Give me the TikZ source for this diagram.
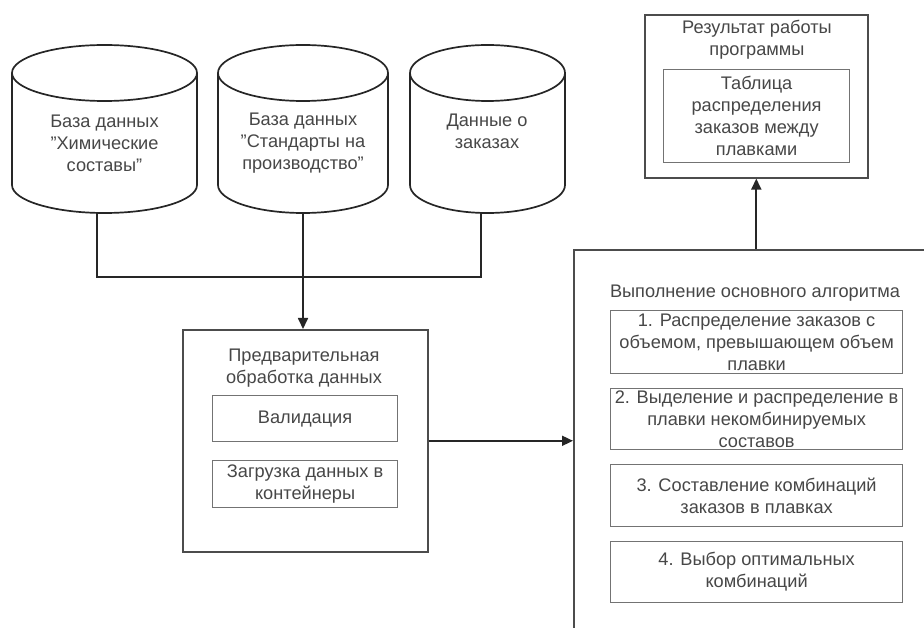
\documentclass[tikz,border=0pt]{standalone}
\usepackage{fontspec}
\setmainfont{Liberation Sans}
\usetikzlibrary{arrows.meta}
\newcommand\sq{\symbol{34}}
\begin{document}
\begin{tikzpicture}[x=1pt,y=-1pt,
  line/.style={draw=black!85, line width=1.7pt},
  box/.style={draw=black!70, line width=1.6pt, rectangle, inner sep=0pt, fill=white, anchor=north west},
  inbox/.style={draw=black!55, line width=1.2pt, rectangle, inner sep=0pt, anchor=north west},
  txt/.style={text=black!72, font=\fontsize{18.2}{22}\selectfont, align=center, inner sep=0pt},
  arr/.style={draw=black!85, line width=1.7pt, -{Triangle[length=11pt,width=10pt]}},
]
\useasboundingbox (0,0) rectangle (924,628);
\clip (0,0) rectangle (924,628);
\fill[white] (0,0) rectangle (924,628);

% cylinders
\draw[line, fill=white] (12,73) -- (12,185) arc[start angle=180, end angle=0, x radius=92.5, y radius=28] -- (197,73);
\draw[line, fill=white] (104.5,73) ellipse [x radius=92.5, y radius=28];
\node[txt] (t1) at (104.5,143) {База данных\\\sq Химические\\составы\sq};
\coordinate (c1) at (97,213);

\draw[line, fill=white] (218,73) -- (218,185) arc[start angle=180, end angle=0, x radius=85, y radius=28] -- (388,73);
\draw[line, fill=white] (303,73) ellipse [x radius=85, y radius=28];
\node[txt] (t2) at (303,143) {База данных\\\sq Стандарты на\\производство\sq};
\coordinate (c2) at (303,213);

\draw[line, fill=white] (410,73) -- (410,185) arc[start angle=180, end angle=0, x radius=77.5, y radius=28] -- (565,73);
\draw[line, fill=white] (487.5,73) ellipse [x radius=77.5, y radius=28];
\node[txt] (t3) at (487,131.5) {Данные о\\заказах};
\coordinate (c3) at (481,213);

\coordinate (j) at (303,277);

% preprocessing
\node[box, minimum width=245, minimum height=222] (pre) at (182,329) {};
\node[txt] (pret) at (304,368) {Предварительная\\обработка данных};
\node[inbox, minimum width=185, minimum height=46] (val) at (212,395) {};
\node[txt] at (val.center) {Валидация};
\node[inbox, minimum width=185, minimum height=47] (load) at (212,460) {};
\node[txt] at (load.center) {Загрузка данных в\\контейнеры};

% main algorithm
\node[box, minimum width=400, minimum height=420] (main) at (573,249) {};
\node[txt] (maint) at (755,293) {Выполнение основного алгоритма};
\node[inbox, minimum width=292, minimum height=63] (s1) at (610,310) {};
\node[txt] at (s1.center) {1. Распределение заказов с\\объемом, превышающем объем\\плавки};
\node[inbox, minimum width=292, minimum height=61] (s2) at (610,388) {};
\node[txt] at (s2.center) {2. Выделение и распределение в\\плавки некомбинируемых\\составов};
\node[inbox, minimum width=292, minimum height=62] (s3) at (610,464) {};
\node[txt] at (s3.center) {3. Составление комбинаций\\заказов в плавках};
\node[inbox, minimum width=292, minimum height=61] (s4) at (610,541) {};
\node[txt] at (s4.center) {4. Выбор оптимальных\\комбинаций};

% result
\node[box, minimum width=223, minimum height=163] (res) at (644,14) {};
\node[txt] (rest) at (757,39.5) {Результат работы\\программы};
\node[inbox, minimum width=186, minimum height=93] (tab) at (663,69) {};
\node[txt] at (tab.center) {Таблица\\распределения\\заказов между\\плавками};

% connectors
\draw[line] (c1) |- (j) -| (c3);
\draw[arr] (c2) -- (c2 |- pre.north);
\draw[arr] (pre.east) -- (pre.east -| main.west);
\draw[arr] (res.south |- main.north) -- (res.south);
\end{tikzpicture}
\end{document}
